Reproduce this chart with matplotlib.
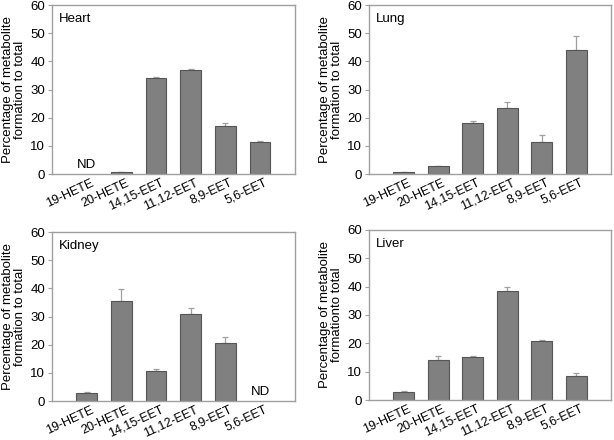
import matplotlib
matplotlib.use("Agg")
import matplotlib.pyplot as plt
import numpy as np

plt.rcParams['font.family'] = ['Liberation Sans', 'DejaVu Sans']

metabolites = ["19-HETE", "20-HETE", "14,15-EET", "11,12-EET", "8,9-EET", "5,6-EET"]

# mean values and (upward) error, NaN = not detected
heart = [np.nan, 0.7, 34.1, 36.8, 17.0, 11.5]
heart_err = [0, 0.15, 0.3, 0.6, 1.0, 0.3]
lung = [0.7, 2.7, 18.1, 23.3, 11.5, 43.9]
lung_err = [0.1, 0.3, 0.7, 2.2, 2.4, 5.1]
kidney = [2.7, 35.4, 10.7, 30.8, 20.5, np.nan]
kidney_err = [0.4, 4.3, 0.7, 2.3, 2.3, 0]
liver = [2.9, 14.2, 15.1, 38.5, 20.8, 8.6]
liver_err = [0.3, 1.4, 0.5, 1.3, 0.4, 0.8]

panels = [
    ("Heart", heart, heart_err, "Percentage of metabolite\nformation to total", [0.0847, 0.6045, 0.3953, 0.3841]),
    ("Lung", lung, lung_err, "Percentage of metabolite\nformation to total", [0.601, 0.6045, 0.394, 0.3841]),
    ("Kidney", kidney, kidney_err, "Percentage of metabolite\nformation to total", [0.0847, 0.0886, 0.3953, 0.3841]),
    ("Liver", liver, liver_err, "Percentage of metabolite\nformationto total", [0.601, 0.0909, 0.394, 0.3864]),
]

fig = plt.figure(figsize=(6.14, 4.40), dpi=100)
x = np.arange(1, len(metabolites) + 1)
gray = "#a0a0a0"
fs = 9.5

for name, vals, errs, ylab, rect in panels:
    ax = fig.add_axes(rect)
    vals = np.array(vals, dtype=float)
    errs = np.array(errs, dtype=float)
    ok = ~np.isnan(vals)
    ax.bar(x[ok], vals[ok], width=0.6, color="#808080", edgecolor="#555555", linewidth=0.8, zorder=2)
    ax.errorbar(x[ok], vals[ok], yerr=[np.zeros(ok.sum()), errs[ok]], fmt="none",
                ecolor=gray, elinewidth=0.9, capsize=2.5, capthick=0.9, zorder=1)
    for xi in x[~ok]:
        ax.text(xi, 1.2, "ND", ha="center", va="bottom", fontsize=fs)
    ax.set_xlim(0, 7)
    ax.set_ylim(0, 60)
    ax.set_yticks(range(0, 61, 10))
    ax.set_xticks(x + 0.12)
    ax.set_xticklabels(metabolites, rotation=25, ha="right", rotation_mode="anchor", fontsize=9)
    ax.tick_params(axis="x", length=0, pad=2)
    ax.tick_params(axis="y", length=3, color=gray, labelsize=fs, pad=2)
    for sp in ax.spines.values():
        sp.set_color(gray)
        sp.set_linewidth(1.0)
    ax.set_ylabel(ylab, fontsize=fs, linespacing=1.0, labelpad=3)
    ax.text(0.03, 0.95, name, transform=ax.transAxes, ha="left", va="top", fontsize=fs)

fig.savefig("out.png", dpi=100)
